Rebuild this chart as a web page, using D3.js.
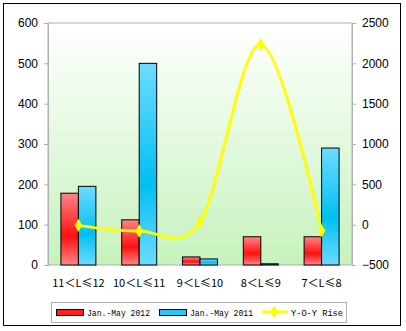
<!DOCTYPE html>
<html><head><meta charset="utf-8">
<script src="https://cdn.jsdelivr.net/npm/d3@7"></script>
<style>body{margin:0;background:#fff}svg{display:block}</style>
</head><body>
<svg id="c" width="406" height="331"></svg>
<script>
const categories = ["11＜L≤12","10＜L≤11","9＜L≤10","8＜L≤9","7＜L≤8"];
const sales2012 = [178,112,20,70,70];
const sales2011 = [195,500,15,3,290];
const yoyRise = [-8.7,-77.6,33.3,2233.3,-75.9];
const leftTicks = [0,100,200,300,400,500,600];
const rightTicks = [-500,0,500,1000,1500,2000,2500];
const seriesNames = ["Jan.-May 2012","Jan.-May 2011","Y-O-Y Rise"];

const svg = d3.select("#c");
const L=48,R=352,T=23,B=265;
const defs = svg.append("defs");
const bg = defs.append("linearGradient").attr("id","bg").attr("x1",0).attr("y1",0).attr("x2",0).attr("y2",1);
bg.append("stop").attr("offset","0").attr("stop-color","#ffffff");
bg.append("stop").attr("offset","1").attr("stop-color","#c6f2bd");
function barGrad(id,light,dark){
  const g=defs.append("linearGradient").attr("id",id).attr("x1",0).attr("y1",0).attr("x2",0).attr("y2",1);
  g.append("stop").attr("offset","0").attr("stop-color",light);
  g.append("stop").attr("offset","0.6").attr("stop-color",dark);
  g.append("stop").attr("offset","1").attr("stop-color",light);
}
barGrad("gr","#ff8585","#ff1010");
barGrad("gb","#6ddcff","#00bff2");

svg.append("rect").attr("x",3.5).attr("y",3.5).attr("width",397).attr("height",322).attr("fill","#fff").attr("stroke","#000");

const x = d3.scaleBand().domain(categories).range([L,R]);
const y = d3.scaleLinear().domain([0,600]).range([B,T]);
const y2 = d3.scaleLinear().domain([-500,2500]).range([B,T]);

svg.append("rect").attr("x",L).attr("y",T).attr("width",R-L).attr("height",B-T).attr("fill","url(#bg)").attr("stroke","#b0b0b0");

const bw = 17.5;
svg.append("g").selectAll("rect").data(sales2012).join("rect")
  .attr("x",(d,i)=>x(categories[i])+x.bandwidth()/2-bw).attr("y",d=>y(d))
  .attr("width",bw).attr("height",d=>B-y(d)).attr("fill","url(#gr)").attr("stroke","#000");
svg.append("g").selectAll("rect").data(sales2011).join("rect")
  .attr("x",(d,i)=>x(categories[i])+x.bandwidth()/2).attr("y",d=>y(d))
  .attr("width",bw).attr("height",d=>B-y(d)).attr("fill","url(#gb)").attr("stroke","#000");

const ax = svg.append("g").attr("transform",`translate(${L},0)`).call(d3.axisLeft(y).tickValues(leftTicks).tickFormat(d3.format("d")).tickSize(4).tickPadding(6));
const ax2 = svg.append("g").attr("transform",`translate(${R},0)`).call(d3.axisRight(y2).tickValues(rightTicks).tickFormat(d3.format("d")).tickSize(4).tickPadding(6));
[ax,ax2].forEach(a=>{
  a.select(".domain").attr("stroke","#b0b0b0");
  a.selectAll(".tick line").attr("stroke","#b0b0b0");
  a.selectAll("text").attr("font-family","Arial, 'Liberation Sans', sans-serif").attr("font-size",12).attr("fill","#000");
});
const ax3 = svg.append("g").attr("transform",`translate(0,${B})`).call(d3.axisBottom(x).tickSize(0).tickPadding(14));
ax3.select(".domain").remove();
ax3.selectAll("text").attr("font-family","'Noto Sans CJK SC', 'DejaVu Sans', sans-serif").attr("font-size",11).attr("fill","#000");

const cx = (d,i)=>x(categories[i])+x.bandwidth()/2;
const line = d3.line().x(cx).y(d=>y2(d)).curve(d3.curveCatmullRom.alpha(0));
svg.append("path").datum(yoyRise).attr("d",line).attr("fill","none").attr("stroke","#ffff00").attr("stroke-width",3);
const dia = d3.symbol().type(d3.symbolDiamond).size(50);
svg.append("g").selectAll("path").data(yoyRise).join("path")
  .attr("transform",(d,i)=>`translate(${cx(d,i)},${y2(d)})`).attr("d",dia).attr("fill","#ffff00");

// legend
const lg = svg.append("g");
lg.append("rect").attr("x",51.5).attr("y",302.5).attr("width",295).attr("height",20).attr("fill","#fff").attr("stroke","#b0b0b0");
const lf = "'Liberation Mono', 'DejaVu Sans Mono', monospace";
function ltext(xx,t,len){
  lg.append("text").attr("x",xx).attr("y",316).text(t).attr("font-family",lf).attr("font-size",9.5)
    .attr("textLength",len).attr("lengthAdjust","spacingAndGlyphs");
}
lg.append("rect").attr("x",56.5).attr("y",309.5).attr("width",27).attr("height",6).attr("fill","#ff2020").attr("stroke","#000");
ltext(87,seriesNames[0],63);
lg.append("rect").attr("x",159.5).attr("y",309.5).attr("width",27).attr("height",6).attr("fill","#20c8ff").attr("stroke","#000");
ltext(190,seriesNames[1],63);
lg.append("line").attr("x1",262).attr("x2",288).attr("y1",312).attr("y2",312).attr("stroke","#ffff00").attr("stroke-width",3);
lg.append("path").attr("transform","translate(274,312)").attr("d",dia).attr("fill","#ffff00");
ltext(291,seriesNames[2],52);
</script>
</body></html>
